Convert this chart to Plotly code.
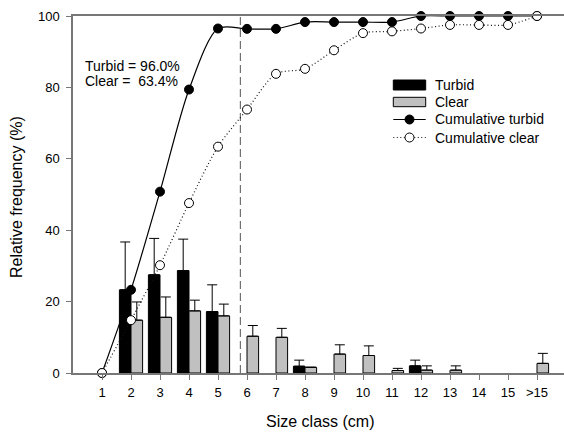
import plotly.graph_objects as go

# ---------------- data ----------------
classes = list(range(1, 17))
tick_labels = [str(i) for i in range(1, 16)] + [">15"]

turbid_pct = [0, 23.3, 27.5, 28.7, 17.2, 0, 0, 1.9, 0, 0, 0, 2.0, 0, 0, 0, 0]
turbid_err = [None, 13.4, 10.2, 8.8, 7.5, None, None, 1.7, None, None, None, 1.6, None, None, None, None]
clear_pct = [0, 14.8, 15.6, 17.4, 16.0, 10.3, 10.0, 1.6, 5.3, 4.9, 0.7, 0.8, 0.8, 0, 0, 2.7]
clear_err = [None, 5.1, 5.7, 3.0, 3.3, 3.0, 2.5, None, 2.6, 2.7, 0.6, 1.2, 1.2, None, None, 2.8]

cum_turbid = [0, 23.3, 50.8, 79.4, 96.5, 96.4, 96.4, 98.3, 98.3, 98.3, 98.3, 100, 100, 100, 100, 100]
cum_clear = [0, 14.8, 30.2, 47.6, 63.4, 73.8, 83.8, 85.2, 90.4, 95.2, 95.7, 96.5, 97.5, 97.5, 97.5, 100]

cutoff = 5.77
note_lines = ["Turbid = 96.0%", "Clear =\u00a0 63.4%"]
legend_names = ["Turbid", "Clear", "Cumulative turbid", "Cumulative clear"]

# ---------------- layout helpers ----------------
W, H = 564, 432
L, R, T, B = 73, 0, 16, 59
PW, PH = W - L - R, H - T - B
FONT = "Liberation Sans, Arial, sans-serif"
AXC = "#777777"
DOT = "1px,2.5px"


def px(x):
    return (x - L) / PW


def py(y):
    return (H - B - y) / PH


def shown(vals):
    # empty size classes draw no bar at all
    return [v if v else None for v in vals]


fig = go.Figure()

zeros = [0] * len(classes)
fig.add_trace(go.Bar(
    x=classes, y=shown(turbid_pct), width=0.4, offset=-0.4,
    marker=dict(color="black", line=dict(color="black", width=1)),
    error_y=dict(type="data", array=turbid_err, arrayminus=zeros, symmetric=False,
                 color="black", thickness=1, width=5),
    cliponaxis=False, showlegend=False))
fig.add_trace(go.Bar(
    x=classes, y=shown(clear_pct), width=0.4, offset=0,
    marker=dict(color="#c0c0c0", line=dict(color="black", width=1)),
    error_y=dict(type="data", array=clear_err, arrayminus=zeros, symmetric=False,
                 color="black", thickness=1, width=5),
    cliponaxis=False, showlegend=False))

fig.add_trace(go.Scatter(
    x=classes, y=cum_turbid, mode="lines+markers",
    line=dict(color="black", width=1.2, shape="spline", smoothing=0.8),
    marker=dict(color="black", size=9, line=dict(color="black", width=1)),
    cliponaxis=False, showlegend=False))
fig.add_trace(go.Scatter(
    x=classes, y=cum_clear, mode="lines+markers",
    line=dict(color="#111111", width=1.2, dash=DOT, shape="spline", smoothing=0.8),
    marker=dict(color="white", size=9, line=dict(color="black", width=1)),
    cliponaxis=False, showlegend=False))

shapes = []
# vertical dashed cutoff line
shapes.append(dict(type="line", xref="x", yref="paper", x0=cutoff, x1=cutoff, y0=0, y1=1,
                   line=dict(color="#555555", width=1, dash="8px,4px"), layer="below"))

# custom legend
lx0, lx1 = 393.3, 425.7
rows = [85, 102, 119.5, 137.5]
shapes.append(dict(type="rect", xref="paper", yref="paper", x0=px(lx0), x1=px(lx1),
                   y0=py(rows[0] + 5), y1=py(rows[0] - 5),
                   fillcolor="black", line=dict(color="black", width=1)))
shapes.append(dict(type="rect", xref="paper", yref="paper", x0=px(lx0), x1=px(lx1),
                   y0=py(rows[1] + 4.7), y1=py(rows[1] - 4.7),
                   fillcolor="#c0c0c0", line=dict(color="black", width=1)))
shapes.append(dict(type="line", xref="paper", yref="paper", x0=px(lx0), x1=px(lx1),
                   y0=py(rows[2]), y1=py(rows[2]), line=dict(color="black", width=1.2)))
shapes.append(dict(type="line", xref="paper", yref="paper", x0=px(lx0), x1=px(lx1),
                   y0=py(rows[3]), y1=py(rows[3]), line=dict(color="#111111", width=1.2, dash=DOT)))
cx = (lx0 + lx1) / 2
r = 4.5
shapes.append(dict(type="circle", xref="paper", yref="paper", x0=px(cx - r), x1=px(cx + r),
                   y0=py(rows[2] + r), y1=py(rows[2] - r),
                   fillcolor="black", line=dict(color="black", width=1)))
shapes.append(dict(type="circle", xref="paper", yref="paper", x0=px(cx - r), x1=px(cx + r),
                   y0=py(rows[3] + r), y1=py(rows[3] - r),
                   fillcolor="white", line=dict(color="black", width=1)))

annotations = []
for name, yy in zip(legend_names, rows):
    annotations.append(dict(text=name, xref="paper", yref="paper", x=px(433), y=py(yy),
                            xanchor="left", yanchor="middle", showarrow=False,
                            font=dict(size=14, color="black", family=FONT)))
for line, yy in zip(note_lines, [66, 81]):
    annotations.append(dict(text=line, xref="paper", yref="paper", x=px(82.5), y=py(yy),
                            xanchor="left", yanchor="middle", showarrow=False,
                            font=dict(size=14, color="black", family=FONT)))
# axis titles
annotations.append(dict(text="Size class (cm)", xref="paper", yref="paper", x=px(320), y=py(421),
                        xanchor="center", yanchor="middle", showarrow=False,
                        font=dict(size=16, color="black", family=FONT)))
annotations.append(dict(text="Relative frequency (%)", xref="paper", yref="paper", x=px(16), y=py(197),
                        xanchor="center", yanchor="middle", showarrow=False, textangle=-90,
                        font=dict(size=16, color="black", family=FONT)))

fig.update_layout(
    width=W, height=H,
    margin=dict(l=L, r=R, t=T, b=B, pad=0),
    paper_bgcolor="white", plot_bgcolor="white",
    barmode="overlay",
    shapes=shapes, annotations=annotations,
    font=dict(family=FONT, size=13, color="black"),
    xaxis=dict(range=[0, PW / 29.0], tickvals=classes, ticktext=tick_labels,
               showgrid=False, zeroline=False, showline=True, linecolor=AXC, linewidth=1.5,
               mirror=True, ticks="outside", ticklen=5, tickcolor=AXC, tickwidth=1.2,
               ticklabelstandoff=2,
               tickfont=dict(size=13, color="black", family=FONT)),
    yaxis=dict(range=[0, 100], tickvals=[0, 20, 40, 60, 80, 100],
               showgrid=False, zeroline=False, showline=True, linecolor=AXC, linewidth=1.5,
               ticks="outside", ticklen=5, tickcolor=AXC, tickwidth=1.2,
               ticklabelstandoff=4,
               tickfont=dict(size=13, color="black", family=FONT)),
)

fig.write_html("out.html")
